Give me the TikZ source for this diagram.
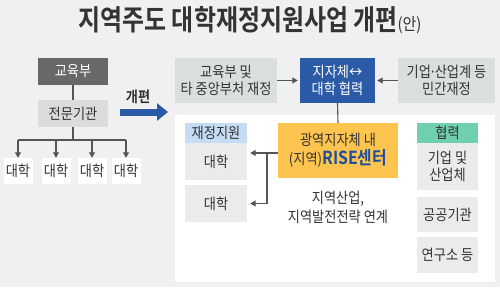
\documentclass[tikz,border=0pt]{standalone}
\usepackage{fontspec}
\setmainfont[FakeStretch=0.88]{Noto Sans CJK KR}
\newfontfamily\titlefont[FakeStretch=0.84]{Noto Sans CJK KR Bold}
\newfontfamily\boldfont[FakeStretch=0.88]{Noto Sans CJK KR Bold}
\usetikzlibrary{arrows.meta}
\definecolor{bg}{HTML}{F0F0F0}
\definecolor{txt}{HTML}{333333}
\definecolor{topgray}{HTML}{D9DFDF}
\definecolor{darkgray}{HTML}{686868}
\definecolor{midgray}{HTML}{DCDCDC}
\definecolor{boxgray}{HTML}{EBEBEB}
\definecolor{navy}{HTML}{2B5AA6}
\definecolor{yel}{HTML}{FDC450}
\definecolor{lblue}{HTML}{C5DCF5}
\definecolor{teal}{HTML}{6FCFAE}
\definecolor{conn}{HTML}{555555}
\definecolor{risetext}{HTML}{1F4E9A}
\begin{document}
\begin{tikzpicture}[x=1pt,y=-1pt,
  box/.style={draw=none,inner sep=0pt,align=center,text=txt,font=\fontsize{15}{16.5}\selectfont},
  conn/.style={draw=conn,line width=1.1pt},
  tip/.style={conn,-{Triangle[length=5.5pt,width=6pt]}}]
\fill[bg] (0,0) rectangle (500,287);
\useasboundingbox (0,0) rectangle (500,287);
% title
\node[text=txt,inner sep=0pt] (title) at (250,20) {\titlefont\fontsize{28.5}{30}\selectfont 지역주도 대학재정지원사업 개편{\normalfont\fontsize{17}{18}\selectfont(안)}};
% left side
\node[box,fill=darkgray,text=white,minimum width=70pt,minimum height=27pt] (gyo) at (73,71.5) {교육부};
\node[box,fill=midgray,minimum width=70pt,minimum height=27pt] (jeon) at (73,113.5) {전문기관};
\foreach \i/\x in {1/18,2/56,3/92,4/126}{
  \node[box,fill=white,minimum width=29pt,minimum height=26pt] (u\i) at (\x,171) {대학};
}
\coordinate (junc) at (73,140);
\draw[conn] (gyo.south) -- (jeon.north);
\draw[conn] (jeon.south) -- (junc);
\draw[conn] (u1.north |- junc) -- (u4.north |- junc);
\foreach \i in {1,...,4}{
  \draw[tip] (u\i.north |- junc) -- (u\i.north);
}
% reform arrow
\node[text=txt,inner sep=0pt] (kp) at (138,97) {\boldfont\fontsize{15}{16}\selectfont 개편};
\coordinate (ka) at (120,112);
\coordinate (kb) at (168,112);
\draw[navy,line width=7pt,-{Triangle[length=11pt,width=17pt]}] (ka) -- (kb);
% right side
\node[fill=white,minimum width=320pt,minimum height=167pt,inner sep=0pt] (panel) at (335,198.5) {};
\node[box,fill=topgray,minimum width=102pt,minimum height=45pt] (t1) at (226,80.5) {교육부 및\\타 중앙부처 재정};
\node[box,fill=navy,text=white,minimum width=75pt,minimum height=45pt] (t2) at (337.5,80.5) {지자체↔\\대학 협력};
\node[box,fill=topgray,minimum width=97pt,minimum height=45pt] (t3) at (446.5,80.5) {기업\kern-0.12em·\kern-0.12em산업계 등\\민간재정};
\draw[tip,shorten >=2pt] (t1.east) -- (t2.west);
\draw[tip,shorten >=2pt] (t3.west) -- (t2.east);
\node[box,fill=yel,minimum width=120pt,minimum height=55pt] (rise) at (338,150.5) {광역지자체 내\\[2pt](지역){\boldfont\color{risetext}\fontsize{18}{19}\selectfont RISE센터}};
\draw[conn] (t2.south) -- (rise.north);
\node[box,fill=lblue,minimum width=62pt,minimum height=20pt] (jh) at (216,133) {재정지원};
\node[box,fill=boxgray,minimum width=62pt,minimum height=37pt] (j1) at (216,161.5) {대학};
\node[box,fill=boxgray,minimum width=62pt,minimum height=37pt] (j2) at (216,203.5) {대학};
\coordinate (split) at (267,153);
\draw[conn] (rise.west |- split) -- (split) -- (split |- j2.east);
\draw[tip,shorten >=3pt] (split) -- (j1.east |- split);
\draw[tip,shorten >=3pt] (split |- j2.east) -- (j2.east);
\node[box,font=\fontsize{15}{18.5}\selectfont] (link) at (338,207.5) {지역산업,\\지역발전전략 연계};
\node[box,fill=teal,minimum width=61pt,minimum height=20pt] (hh) at (447.5,133) {협력};
\node[box,fill=boxgray,minimum width=61pt,minimum height=47pt] (h1) at (447.5,166.5) {기업 및\\산업체};
\node[box,fill=boxgray,minimum width=61pt,minimum height=35pt] (h2) at (447.5,214.5) {공공기관};
\node[box,fill=boxgray,minimum width=61pt,minimum height=36pt] (h3) at (447.5,255) {연구소 등};
\end{tikzpicture}
\end{document}
